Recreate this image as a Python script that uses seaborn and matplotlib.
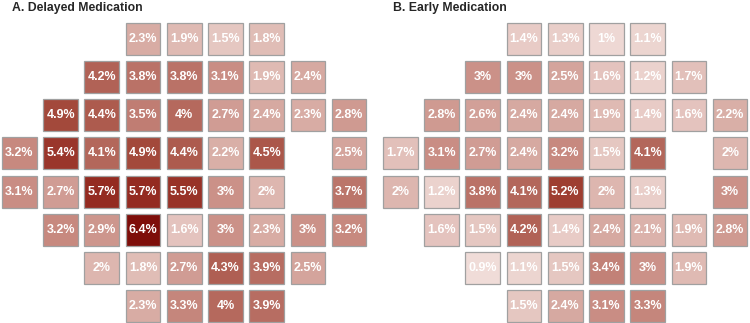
import numpy as np
import matplotlib.pyplot as plt
import seaborn as sns
from matplotlib.colors import LinearSegmentedColormap
from matplotlib.patches import Rectangle

sns.set_theme(style='white')
plt.rcParams['font.family'] = ['Liberation Sans', 'DejaVu Sans']

nan = np.nan
# 8 rows x 9 columns, NaN = no cell
delayed = [
    [nan, nan, nan, 2.3, 1.9, 1.5, 1.8, nan, nan],
    [nan, nan, 4.2, 3.8, 3.8, 3.1, 1.9, 2.4, nan],
    [nan, 4.9, 4.4, 3.5, 4.0, 2.7, 2.4, 2.3, 2.8],
    [3.2, 5.4, 4.1, 4.9, 4.4, 2.2, 4.5, nan, 2.5],
    [3.1, 2.7, 5.7, 5.7, 5.5, 3.0, 2.0, nan, 3.7],
    [nan, 3.2, 2.9, 6.4, 1.6, 3.0, 2.3, 3.0, 3.2],
    [nan, nan, 2.0, 1.8, 2.7, 4.3, 3.9, 2.5, nan],
    [nan, nan, nan, 2.3, 3.3, 4.0, 3.9, nan, nan],
]
early = [
    [nan, nan, nan, 1.4, 1.3, 1.0, 1.1, nan, nan],
    [nan, nan, 3.0, 3.0, 2.5, 1.6, 1.2, 1.7, nan],
    [nan, 2.8, 2.6, 2.4, 2.4, 1.9, 1.4, 1.6, 2.2],
    [1.7, 3.1, 2.7, 2.4, 3.2, 1.5, 4.1, nan, 2.0],
    [2.0, 1.2, 3.8, 4.1, 5.2, 2.0, 1.3, nan, 3.0],
    [nan, 1.6, 1.5, 4.2, 1.4, 2.4, 2.1, 1.9, 2.8],
    [nan, nan, 0.9, 1.1, 1.5, 3.4, 3.0, 1.9, nan],
    [nan, nan, nan, 1.5, 2.4, 3.1, 3.3, nan, nan],
]
titles = ['A. Delayed Medication', 'B. Early Medication']

cmap = LinearSegmentedColormap.from_list('reds', [
    (0.0, '#faf0ee'), (0.14, '#f0dcd8'), (0.375, '#d6a8a0'), (0.5, '#c78a80'),
    (0.625, '#b56a5e'), (0.78, '#a24638'), (0.89, '#952c22'), (1.0, '#7e0e0a')])

fig = plt.figure(figsize=(7.5, 3.23), dpi=100)
W, H = 750, 323
lefts = [-1.25, 379.75]
inset = 0.079

for data, title, left in zip([delayed, early], titles, lefts):
    arr = np.array(data)
    labels = np.where(np.isnan(arr), '', np.vectorize(lambda v: f'{v:g}%')(np.nan_to_num(arr)))
    ax = fig.add_axes([left / W, (H - 325) / H, 371 / W, 305 / H])
    sns.heatmap(arr, mask=np.isnan(arr), cmap=cmap, vmin=0, vmax=6.4,
                annot=labels, fmt='', cbar=False, linewidths=4.7, linecolor='white',
                annot_kws={'color': 'white', 'fontweight': 'bold', 'fontsize': 9},
                ax=ax)
    for i, j in zip(*np.where(~np.isnan(arr))):
        ax.add_patch(Rectangle((j + inset, i + inset), 1 - 2 * inset, 1 - 2 * inset,
                               fill=False, edgecolor='#a0a0a0', lw=0.9))
    ax.set_xticks([])
    ax.set_yticks([])
    ax.axis('off')
    fig.text((left + 13) / W, 1 - 1.5 / H, title, ha='left', va='top',
             fontsize=8.8, fontweight='bold')

fig.savefig('out.png', dpi=100)
